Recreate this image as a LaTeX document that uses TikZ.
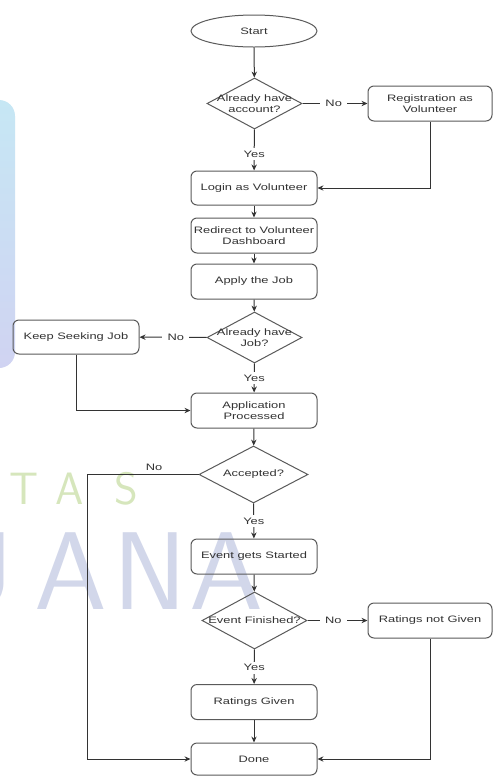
\documentclass[tikz,border=0pt]{standalone}
\usepackage{fontspec}
\usepackage{graphicx}
\setmainfont{Liberation Sans}
\newfontfamily\flowfont[FakeStretch=1.38]{Liberation Sans}
\usetikzlibrary{shapes.geometric,arrows.meta}
\definecolor{lineC}{HTML}{333333}
\definecolor{boxC}{HTML}{5A5A5A}
\definecolor{txtC}{HTML}{333333}
\definecolor{wmCyan}{HTML}{C6E7F4}
\definecolor{wmLav}{HTML}{D0D3F2}
\definecolor{wmBlue}{HTML}{D2D7EA}
\definecolor{wmGreen}{HTML}{D6E6BC}
\newcommand{\flowtxt}{\flowfont\fontsize{7}{8.2}\selectfont}
\begin{document}
\begin{tikzpicture}[x=0.75pt,y=-0.75pt,
  box/.style={draw=boxC, line width=0.75pt, rounded corners=4.5pt,
    minimum width=94.5pt, minimum height=25.5pt, inner sep=0pt,
    align=center, font=\flowtxt, text=txtC},
  dia/.style={draw=boxC, line width=0.75pt, shape=diamond, inner sep=0pt},
  lab/.style={font=\flowtxt, text=txtC, align=center, inner sep=1pt},
  elab/.style={lab, fill=white, inner xsep=4pt, inner ysep=2pt},
  arr/.style={draw=lineC, line width=0.75pt, -{Stealth[length=4.5pt,width=4pt]}},
  wmbig/.style={inner sep=0pt, text=wmBlue, font=\sffamily\fontsize{83}{83}\selectfont},
  wmsmall/.style={inner sep=0pt, text=wmGreen, font=\sffamily\fontsize{34}{34}\selectfont}]
\clip (0,0) rectangle (493,776);
\fill[white] (0,0) rectangle (493,776);
% watermark
\shade[top color=wmCyan, bottom color=wmLav, rounded corners=12pt] (-40,100) rectangle (15,368);
\node[wmsmall] (wt) at (24,489) {T};
\node[wmsmall] (wa) at (70,489) {A};
\node[wmsmall] (ws) at (126,489) {S};
\node[wmbig] (wu) at (-22,571.5) {U};
\node[wmbig] (wa1) at (71,571.5) {\scalebox{1.05}[1]{A}};
\node[wmbig] (wn) at (150,571.5) {N};
\node[wmbig] (wa2) at (227,571.5) {\scalebox{1.07}[1]{A}};
% nodes
\node[draw=boxC, line width=0.75pt, ellipse, minimum width=94.5pt, minimum height=24pt,
  inner sep=0pt, font=\flowtxt, text=txtC] (start) at (254,31) {Start};
\node[dia, minimum width=71.25pt, minimum height=38.25pt] (d1) at (254.5,103.5) {};
\node[lab] (d1t) at (d1) {Already have\\account?};
\node[box, minimum width=93pt, minimum height=26.25pt] (reg) at (430,103.5) {Registration as\\Volunteer};
\node[box] (login) at (254,188) {Login as Volunteer};
\node[box, minimum height=26.25pt] (redir) at (254,235.5) {Redirect to Volunteer\\Dashboard};
\node[box, minimum height=26.25pt] (apply) at (254,281.5) {Apply the Job};
\node[dia, minimum width=71.25pt, minimum height=38.25pt] (d2) at (254.5,337.5) {};
\node[lab] (d2t) at (d2) {Already have\\Job?};
\node[box] (ks) at (76,337) {Keep Seeking Job};
\node[box, minimum height=26.25pt] (app) at (254,410.5) {Application\\Processed};
\node[dia, minimum width=81.75pt, minimum height=42.75pt] (d3) at (253.5,474.5) {};
\node[lab] (d3t) at (d3) {Accepted?};
\node[box, minimum height=26.25pt] (evs) at (254,556.5) {Event gets Started};
\node[dia, minimum width=78.75pt, minimum height=42.75pt] (d4) at (254.5,620.5) {};
\node[lab] (d4t) at (d4) {Event Finished?};
\node[box, minimum width=93pt, minimum height=26.25pt] (rng) at (430,620.5) {Ratings not Given};
\node[box, minimum height=26.25pt] (rg) at (254,702) {Ratings Given};
\node[box, minimum height=24pt] (done) at (254,759) {Done};
\coordinate (ca) at (87,474.5);
% connectors
\draw[arr] (start) -- (d1);
\draw[arr] (d1) -- node[elab, pos=0.48] {No} (reg);
\draw[arr] (d1) -- node[elab, pos=0.6] {Yes} (login);
\draw[arr] (reg) |- (login);
\draw[arr] (login) -- (redir);
\draw[arr] (redir) -- (apply);
\draw[arr] (apply) -- (d2);
\draw[arr] (d2) -- node[elab, pos=0.46] {No} (ks);
\draw[arr] (d2) -- node[elab, pos=0.5] {Yes} (app);
\draw[arr] (ks) |- (app);
\draw[arr] (app) -- (d3);
\draw[arr] (d3.west) -- (ca) |- (done);
\node[lab] (d3no) at (154,467) {No};
\draw[arr] (d3) -- node[elab, pos=0.5] {Yes} (evs);
\draw[arr] (evs) -- (d4);
\draw[arr] (d4) -- node[elab, pos=0.43] {No} (rng);
\draw[arr] (d4) -- node[elab, pos=0.53] {Yes} (rg);
\draw[arr] (rg) -- (done);
\draw[arr] (rng) |- (done);
\end{tikzpicture}
\end{document}
